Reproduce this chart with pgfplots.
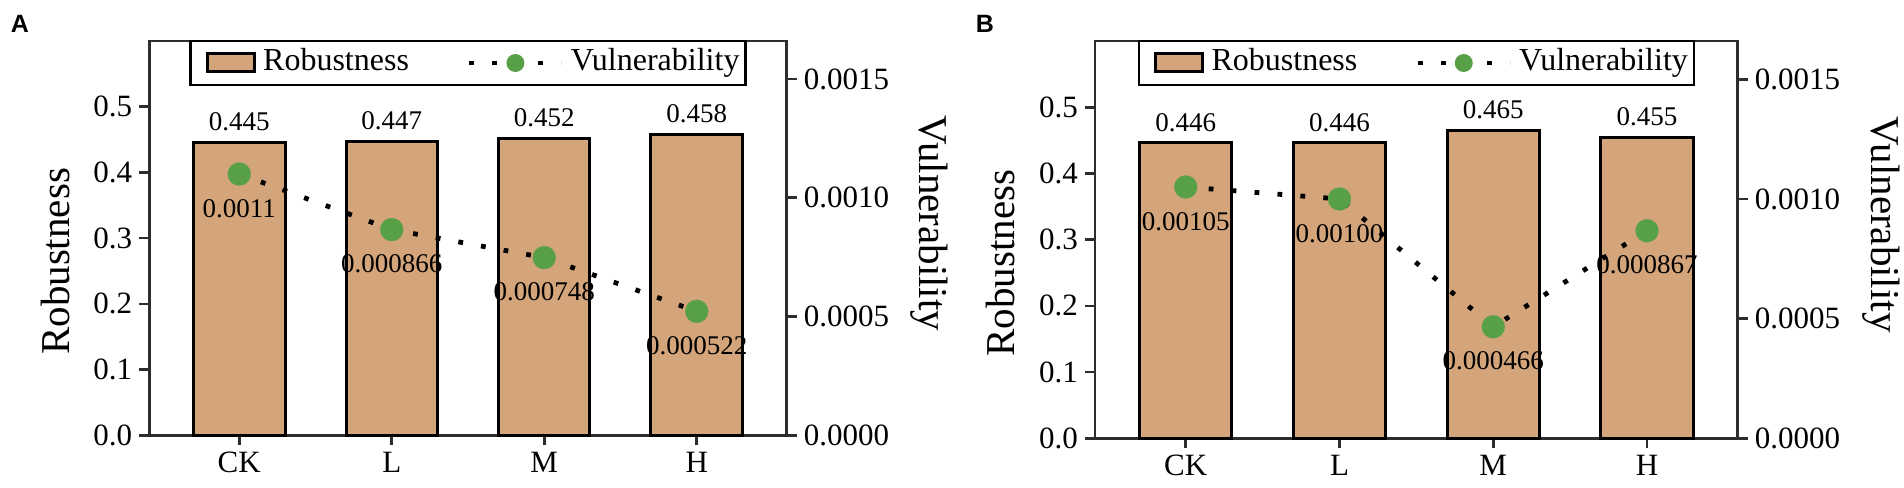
\documentclass[border=0pt]{standalone}
\usepackage{fontspec}
\setmainfont{Liberation Serif}
\newfontfamily\panelfont{Liberation Sans}
\usepackage{pgfplots}
\pgfplotsset{compat=1.18}
\definecolor{barcol}{RGB}{212,165,122}
\definecolor{vgreen}{RGB}{88,160,72}
\definecolor{axcol}{RGB}{45,45,45}

\pgfplotsset{
  common/.style={
    scale only axis, clip=false,
    xmin=-0.59, xmax=3.59,
    axis line style={line width=1.3pt, draw=axcol},
    every tick/.style={line width=1.3pt, draw=axcol},
    major tick length=5pt, tick align=outside,
    tick label style={font=\fontsize{15.5}{18}\selectfont},
    /pgf/number format/assume math mode=true,
    label style={font=\fontsize{20.5}{24}\selectfont},
  },
  baraxis/.style={
    common, ybar, bar width=0.6,
    ymin=0, ymax=0.6,
    xtick={0,1,2,3}, xticklabels={CK,L,M,H},
    xtick pos=bottom, ytick pos=left,
    ytick={0,0.1,0.2,0.3,0.4,0.5},
    yticklabel style={/pgf/number format/.cd, fixed, fixed zerofill, precision=1},
    ylabel={Robustness},
    ylabel style={at={(axis description cs:-0.147,0.441)}, anchor=center},
  },
  vulaxis/.style={
    common,
    ymin=0, ymax=0.00166,
    axis y line*=right, axis x line=none,
    ytick={0,0.0005,0.001,0.0015}, scaled y ticks=false,
    yticklabel style={/pgf/number format/.cd, fixed, fixed zerofill, precision=4},
    ylabel={Vulnerability},
    ylabel style={at={(axis description cs:1.224,0.538)}, anchor=center, rotate=180},
    legend columns=2,
    legend style={at={(axis description cs:0.5,1)}, anchor=north, draw=black,
      line width=1.2pt, inner xsep=3pt, inner ysep=3.75pt, outer sep=0pt,
      column sep=0pt,
      nodes={inner sep=0pt, text height=11pt, text depth=3.5pt, font=\fontsize{16}{19}\selectfont},
      /tikz/every even column/.append style={column sep=29pt}},
    legend cell align=left,
  },
  barplot/.style={fill=barcol, draw=black, line width=1.5pt,
    nodes near coords, point meta=explicit symbolic,
    every node near coord/.append style={font=\fontsize{13.5}{16}\selectfont, anchor=south, inner sep=0pt, yshift=5pt, black}},
  vulplot/.style={black, line width=2.4pt, dash pattern=on 2.4pt off 9.1pt,
    mark=*, mark size=5.75pt, mark options={solid, fill=vgreen, draw=vgreen, line width=0.1pt},
    nodes near coords, point meta=explicit symbolic,
    every node near coord/.append style={font=\fontsize{13.5}{16}\selectfont, anchor=north, inner sep=0pt, yshift=-12.5pt, black},
    legend image code/.code={\path (0pt,0pt) (49.5pt,0pt);
      \draw[black, line width=2.4pt, dash pattern=on 2.4pt off 9.1pt] (0pt,0pt) -- (46pt,0pt);
      \path[fill=vgreen, draw=none, solid] (23pt,0pt) circle (4.5pt);}},
  robustimg/.style={legend image code/.code={\path (-4.65pt,0pt) (27.5pt,0pt);
      \draw[fill=barcol, draw=black, line width=1.5pt, solid] (0pt,-4.5pt) rectangle (23.5pt,4.5pt);}},
}

\begin{document}
\begin{tikzpicture}
\useasboundingbox (0,0) rectangle (952pt,243.5pt);

% Panel A
\begin{axis}[baraxis, at={(74.65pt,25.85pt)}, anchor=south west, width=318.7pt, height=197.15pt]
\addplot[barplot] coordinates {(0,0.445)[0.445] (1,0.447)[0.447] (2,0.452)[0.452] (3,0.458)[0.458]};
\end{axis}
\begin{axis}[vulaxis, at={(74.65pt,25.85pt)}, anchor=south west, width=318.7pt, height=197.15pt]
\addlegendimage{robustimg}
\addlegendentry{Robustness}
\addplot[vulplot] coordinates {(0,0.0011)[0.0011] (1,0.000866)[0.000866] (2,0.000748)[0.000748] (3,0.000522)[0.000522]};
\addlegendentry{Vulnerability}
\end{axis}

% Panel B
\begin{axis}[baraxis, at={(547.5pt,24.35pt)}, anchor=south west, width=321.35pt, height=198.65pt]
\addplot[barplot] coordinates {(0,0.446)[0.446] (1,0.446)[0.446] (2,0.465)[0.465] (3,0.455)[0.455]};
\end{axis}
\begin{axis}[vulaxis, at={(547.5pt,24.35pt)}, anchor=south west, width=321.35pt, height=198.65pt]
\addlegendimage{robustimg}
\addlegendentry{Robustness}
\addplot[vulplot] coordinates {(0,0.00105)[0.00105] (1,0.00100)[0.00100] (2,0.000466)[0.000466] (3,0.000867)[0.000867]};
\addlegendentry{Vulnerability}
\end{axis}

\node[font=\panelfont\bfseries\fontsize{12.5}{14}\selectfont] at (10pt,231.5pt) {A};
\node[font=\panelfont\bfseries\fontsize{12.5}{14}\selectfont] at (492.5pt,231.5pt) {B};
\end{tikzpicture}
\end{document}
